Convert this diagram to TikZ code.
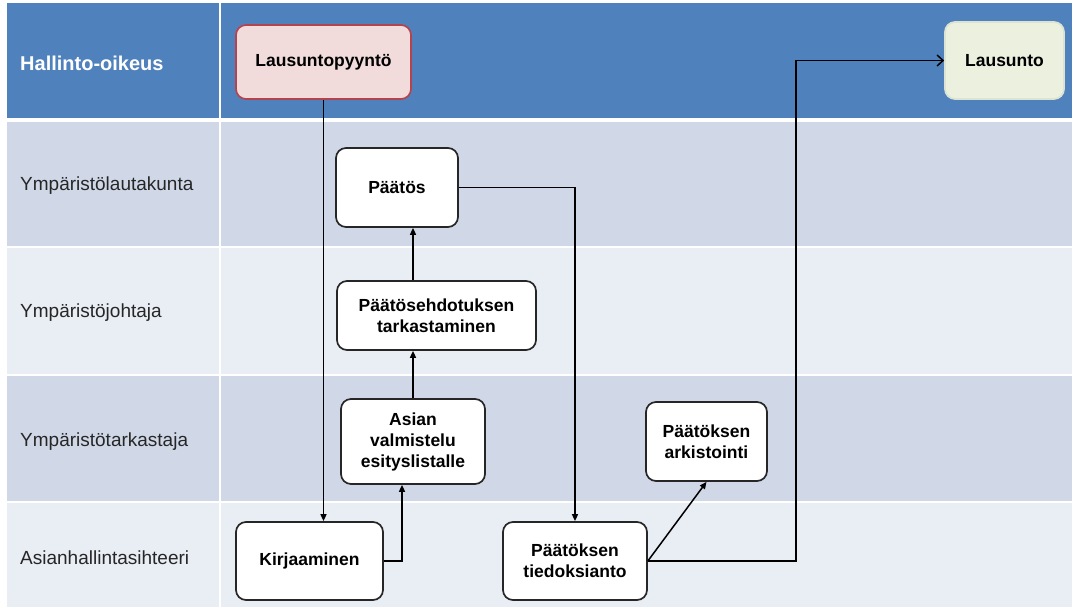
\documentclass[tikz,border=0pt]{standalone}
\usepackage{fontspec}
\setmainfont{Liberation Sans}
\usetikzlibrary{arrows.meta,positioning}
\definecolor{laneBlue}{HTML}{4F81BD}
\definecolor{rowDark}{HTML}{D0D8E8}
\definecolor{rowLight}{HTML}{E9EDF4}
\definecolor{reqFill}{HTML}{F2DCDB}
\definecolor{reqLine}{HTML}{B5434F}
\definecolor{resFill}{HTML}{EBF1DE}
\definecolor{resLine}{HTML}{DDE3D3}
\definecolor{boxLine}{HTML}{262626}
\tikzset{
  taskbox/.style={draw=boxLine,line width=1.7pt,fill=white,rounded corners=10pt,align=center,inner sep=0pt,font=\fontsize{17.5}{21}\selectfont\bfseries},
  lanelabel/.style={anchor=west,inner sep=0pt,text=boxLine,font=\fontsize{19}{23}\selectfont},
  flow/.style={draw=black,line width=1.5pt,-{Triangle[length=7pt,width=6pt]}},
}

\begin{document}
\begin{tikzpicture}[x=1pt,y=-1pt]
  \useasboundingbox (0,0) rectangle (1072,609);
  \fill[laneBlue] (7,3) rectangle (1072,120);
  \fill[rowDark] (7,120) rectangle (1072,247);
  \fill[rowLight] (7,247) rectangle (1072,375);
  \fill[rowDark] (7,375) rectangle (1072,502);
  \fill[rowLight] (7,502) rectangle (1072,607);
  \draw[white,line width=4pt] (7,120) -- (1072,120);
  \foreach \y in {247,375,502} \draw[white,line width=2.5pt] (7,\y) -- (1072,\y);
  \draw[white,line width=2pt] (220,3) -- (220,607);

  \node[lanelabel,text=white,font=\fontsize{20}{24}\selectfont\bfseries] (court) at (20,63) {Hallinto-oikeus};
  \node[lanelabel] (board) at (20,186) {Ympäristölautakunta};
  \node[lanelabel] (director) at (20,313) {Ympäristöjohtaja};
  \node[lanelabel] (inspector) at (20,442) {Ympäristötarkastaja};
  \node[lanelabel] (secretary) at (20,558) {Asianhallintasihteeri};

  \node[taskbox,fill=reqFill,draw=reqLine,minimum width=175pt,minimum height=74pt] (request) at (323.5,62) {Lausuntopyyntö};
  \node[taskbox,fill=resFill,draw=resLine,minimum width=119pt,minimum height=77pt] (statement) at (1004.5,60.5) {Lausunto};
  \node[taskbox,minimum width=122pt,minimum height=79pt] (decision) at (397,187.5) {Päätös};
  \node[taskbox,minimum width=199pt,minimum height=69pt] (review) at (436.5,315.5) {Päätösehdotuksen\\tarkastaminen};
  \node[taskbox,minimum width=144pt,minimum height=85pt] (prep) at (413,441.5) {Asian\\valmistelu\\esityslistalle};
  \node[taskbox,minimum width=147pt,minimum height=78pt] (registry) at (309.5,561) {Kirjaaminen};
  \node[taskbox,minimum width=144pt,minimum height=78pt] (notice) at (575,561) {Päätöksen\\tiedoksianto};
  \node[taskbox,minimum width=121pt,minimum height=79pt] (archive) at (706.5,441.5) {Päätöksen\\arkistointi};

  \draw[flow] (request.south) -- (request.south |- registry.north);
  \draw[flow] (registry.east) -| ([xshift=-11pt]prep.south);
  \draw[flow] (prep.north) -- (prep.north |- review.south);
  \draw[flow] (prep.north |- review.north) -- (prep.north |- decision.south);
  \draw[flow] (decision.east) -| (notice.north);
  \draw[flow] (notice.east) -- (archive.south);
  \draw[line width=1.5pt,-{Straight Barb[length=6pt,width=11pt]}] (notice.east) -- ++(148,0) |- (statement.west);
\end{tikzpicture}
\end{document}
